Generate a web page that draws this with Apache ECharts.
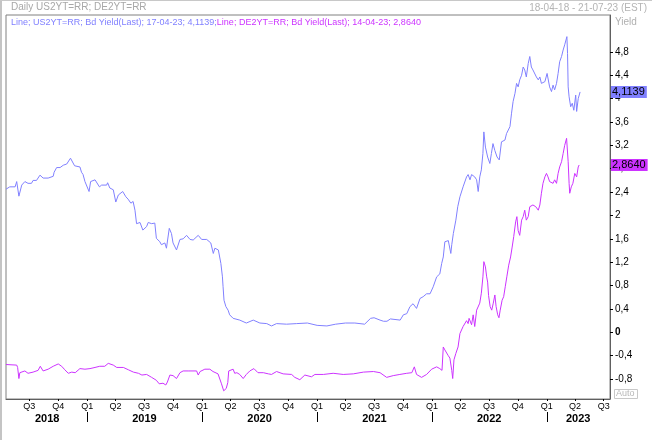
<!DOCTYPE html>
<html><head><meta charset="utf-8">
<script src="https://cdn.jsdelivr.net/npm/echarts@6/dist/echarts.min.js"></script>
<style>html,body{margin:0;padding:0;background:#fff}#c{width:652px;height:440px}</style>
</head><body><div id="c"></div>
<script>
// ---- US 2Y yield (Bd Yield, Last) ----
const usDates = [
'2018-04-18','2018-04-30','2018-05-17','2018-05-22','2018-05-25','2018-05-29','2018-06-07','2018-06-17','2018-06-27',
'2018-07-08','2018-07-13','2018-07-24','2018-08-04','2018-08-14','2018-08-30','2018-09-05','2018-09-15','2018-09-18','2018-09-26',
'2018-10-07','2018-10-17','2018-10-28','2018-11-01','2018-11-09','2018-11-22','2018-11-27','2018-12-09','2018-12-14','2018-12-19','2018-12-25','2018-12-30',
'2019-01-07','2019-01-12','2019-01-26','2019-01-31','2019-02-09','2019-02-16','2019-03-04','2019-03-07','2019-03-14','2019-03-25',
'2019-04-02','2019-04-10','2019-04-24','2019-05-04','2019-05-11','2019-05-20','2019-05-27','2019-06-02','2019-06-07','2019-06-18','2019-06-27',
'2019-07-09','2019-07-14','2019-07-25','2019-08-04','2019-08-09','2019-08-20','2019-08-25','2019-09-05','2019-09-10','2019-09-19','2019-09-26',
'2019-10-01','2019-10-12','2019-10-23','2019-11-02','2019-11-13','2019-11-24','2019-12-04','2019-12-20','2019-12-31',
'2020-01-16','2020-01-29','2020-02-06','2020-02-11','2020-02-22','2020-02-27','2020-03-01','2020-03-06','2020-03-08','2020-03-11','2020-03-17','2020-03-24','2020-03-29',
'2020-04-09','2020-04-15','2020-04-30','2020-05-21','2020-06-12','2020-07-03','2020-07-25','2020-08-09','2020-08-25','2020-09-26','2020-10-28','2020-12-01',
'2021-01-01','2021-02-01','2021-03-01','2021-04-01','2021-05-01','2021-06-01','2021-06-20','2021-07-01','2021-07-20','2021-07-31','2021-08-11','2021-08-22','2021-09-22',
'2021-10-02','2021-10-13','2021-10-23','2021-11-02','2021-11-13','2021-11-24','2021-12-04','2021-12-15','2021-12-26',
'2022-01-05','2022-01-16','2022-01-26','2022-02-01','2022-02-06','2022-02-11','2022-02-22','2022-03-02','2022-03-05','2022-03-10','2022-03-18','2022-03-24','2022-03-31',
'2022-04-10','2022-04-21','2022-04-26','2022-05-02','2022-05-07','2022-05-17','2022-05-23','2022-05-28','2022-06-02','2022-06-07','2022-06-12','2022-06-15','2022-06-20','2022-06-27',
'2022-07-04','2022-07-09','2022-07-14','2022-07-20','2022-07-27','2022-08-03','2022-08-10','2022-08-21','2022-08-26',
'2022-09-06','2022-09-11','2022-09-16','2022-09-22','2022-09-27','2022-10-02','2022-10-07','2022-10-13','2022-10-18','2022-10-23','2022-10-28',
'2022-11-03','2022-11-08','2022-11-13','2022-11-18','2022-11-24','2022-11-29','2022-12-05','2022-12-10','2022-12-15','2022-12-26',
'2023-01-02','2023-01-10','2023-01-16','2023-01-21','2023-01-26','2023-02-01','2023-02-06','2023-02-11','2023-02-17','2023-02-22','2023-02-27',
'2023-03-06','2023-03-08','2023-03-10','2023-03-13','2023-03-18','2023-03-23','2023-03-28','2023-04-03','2023-04-06','2023-04-11','2023-04-17'
];
const usValues = [
2.45,2.49,2.49,2.58,2.55,2.33,2.52,2.58,2.55,
2.55,2.60,2.60,2.69,2.64,2.64,2.67,2.67,2.74,2.82,
2.82,2.86,2.88,2.86,2.98,2.85,2.83,2.83,2.74,2.70,2.58,2.58,
2.41,2.58,2.61,2.61,2.49,2.52,2.52,2.56,2.47,2.44,
2.23,2.35,2.41,2.32,2.28,2.21,2.24,2.09,1.86,1.88,1.75,
1.81,1.88,1.86,1.87,1.61,1.55,1.50,1.53,1.44,1.78,1.69,
1.53,1.41,1.59,1.60,1.66,1.59,1.58,1.66,1.59,
1.59,1.53,1.35,1.44,1.41,1.41,1.18,0.95,0.78,0.55,0.44,0.38,0.30,
0.24,0.26,0.21,0.16,0.21,0.16,0.15,0.11,0.15,0.14,0.15,0.16,
0.12,0.11,0.14,0.16,0.16,0.14,0.24,0.25,0.21,0.19,0.19,0.23,0.21,
0.30,0.32,0.44,0.49,0.41,0.58,0.61,0.66,0.66,
0.78,0.95,1.00,1.18,1.29,1.55,1.57,1.35,1.50,1.69,1.92,2.15,2.32,
2.49,2.66,2.70,2.61,2.70,2.66,2.61,2.41,2.66,2.78,3.06,3.43,3.17,3.00,
2.89,3.06,3.23,3.11,3.00,2.95,3.26,3.29,3.40,
3.52,3.75,3.95,4.09,4.26,4.20,4.32,4.40,4.54,4.49,4.37,
4.60,4.72,4.54,4.49,4.46,4.37,4.32,4.37,4.26,4.29,
4.43,4.20,4.12,4.23,4.15,4.26,4.43,4.63,4.72,4.83,4.92,
5.06,4.77,4.20,4.03,3.86,3.92,3.80,4.06,3.78,4.00,4.1139
];

// ---- German 2Y yield (Bd Yield, Last) ----
const deDates = [
'2018-04-18','2018-05-22','2018-05-25','2018-05-29','2018-06-01','2018-06-17','2018-06-27','2018-07-13','2018-07-29','2018-08-05','2018-08-14','2018-08-30','2018-09-15',
'2018-10-01','2018-10-12','2018-10-22','2018-11-02','2018-11-13','2018-11-24','2018-12-09','2018-12-25',
'2019-01-10','2019-01-26','2019-02-10','2019-02-26','2019-03-09','2019-03-25','2019-04-05','2019-04-26','2019-05-12','2019-05-28','2019-06-13','2019-06-24',
'2019-07-09','2019-07-25','2019-08-09','2019-08-18','2019-08-30','2019-09-08','2019-09-13','2019-09-21','2019-10-01','2019-10-12','2019-10-23','2019-11-02','2019-11-18','2019-12-15','2019-12-20','2019-12-26',
'2020-01-10','2020-01-26','2020-02-05','2020-02-21','2020-03-03','2020-03-10','2020-03-18','2020-03-23','2020-03-26','2020-04-09','2020-04-14','2020-04-21','2020-04-30','2020-05-11','2020-05-21',
'2020-06-01','2020-06-14','2020-06-27','2020-07-14','2020-07-30','2020-08-09','2020-08-25','2020-09-15','2020-10-12','2020-10-22','2020-11-07','2020-11-23','2020-12-14','2020-12-25',
'2021-01-21','2021-02-21','2021-03-25','2021-04-26','2021-05-28','2021-06-29','2021-07-20','2021-08-10','2021-08-31','2021-09-21','2021-10-13','2021-10-29','2021-11-06','2021-11-13','2021-11-29','2021-12-15','2021-12-31',
'2022-01-16','2022-01-26','2022-02-02','2022-02-06','2022-02-11','2022-02-22','2022-02-27','2022-03-05','2022-03-08','2022-03-12','2022-03-18','2022-03-25','2022-03-31',
'2022-04-05','2022-04-10','2022-04-21','2022-04-26','2022-04-29','2022-05-02','2022-05-07','2022-05-12','2022-05-17','2022-05-23','2022-05-28','2022-06-02','2022-06-07','2022-06-12','2022-06-15','2022-06-20','2022-06-24','2022-06-27','2022-06-30',
'2022-07-05','2022-07-10','2022-07-15','2022-07-20','2022-07-24','2022-07-29','2022-08-02','2022-08-06','2022-08-12','2022-08-17','2022-08-22','2022-08-27','2022-09-02','2022-09-08','2022-09-13','2022-09-18','2022-09-24','2022-09-28',
'2022-10-02','2022-10-07','2022-10-13','2022-10-18','2022-10-23','2022-10-28','2022-11-03','2022-11-08','2022-11-13','2022-11-18','2022-11-27','2022-12-05','2022-12-10','2022-12-15','2022-12-20','2022-12-26','2022-12-31',
'2023-01-05','2023-01-10','2023-01-16','2023-01-21','2023-01-26','2023-02-01','2023-02-06','2023-02-11','2023-02-17','2023-02-22','2023-02-27','2023-03-05','2023-03-10','2023-03-13','2023-03-15','2023-03-20','2023-03-25','2023-03-31','2023-04-06','2023-04-11','2023-04-14'
];
const deValues = [
-0.55,-0.56,-0.60,-0.79,-0.69,-0.66,-0.70,-0.68,-0.65,-0.58,-0.66,-0.63,-0.58,
-0.54,-0.58,-0.64,-0.70,-0.68,-0.69,-0.62,-0.63,
-0.62,-0.60,-0.58,-0.58,-0.53,-0.56,-0.60,-0.60,-0.64,-0.68,-0.70,-0.73,
-0.72,-0.77,-0.82,-0.88,-0.87,-0.90,-0.85,-0.73,-0.74,-0.79,-0.69,-0.66,-0.66,-0.66,-0.73,-0.67,
-0.63,-0.63,-0.67,-0.71,-0.88,-1.00,-0.96,-0.86,-0.66,-0.63,-0.70,-0.69,-0.72,-0.79,-0.72,
-0.66,-0.62,-0.69,-0.69,-0.71,-0.72,-0.67,-0.71,-0.72,-0.77,-0.81,-0.73,-0.76,-0.72,
-0.72,-0.70,-0.72,-0.71,-0.68,-0.67,-0.69,-0.77,-0.74,-0.72,-0.70,-0.69,-0.59,-0.72,-0.77,-0.72,-0.63,
-0.59,-0.62,-0.65,-0.25,-0.30,-0.40,-0.44,-0.65,-0.79,-0.47,-0.36,-0.25,-0.02,
0.01,0.10,0.20,0.15,0.24,0.27,0.13,0.30,0.10,0.38,0.35,0.50,0.67,0.95,1.21,1.12,0.95,0.86,0.63,
0.44,0.38,0.50,0.64,0.44,0.30,0.25,0.38,0.55,0.61,0.78,0.95,1.15,1.29,1.46,1.64,1.89,1.98,
1.74,1.66,1.92,1.98,2.09,1.92,1.98,2.15,2.12,2.18,2.15,2.09,2.18,2.38,2.55,2.66,2.72,
2.66,2.58,2.61,2.55,2.61,2.55,2.72,2.83,2.92,3.06,3.20,3.32,2.92,2.55,2.38,2.49,2.55,2.72,2.66,2.83,2.864
];

// ---- axis ticks / labels ----
const axisMin = '2018-04-18';
const axisMax = '2023-07-21';
const quarterTicks = ['2018-07-01','2018-10-01','2019-01-01','2019-04-01','2019-07-01','2019-10-01',
'2020-01-01','2020-04-01','2020-07-01','2020-10-01','2021-01-01','2021-04-01','2021-07-01','2021-10-01',
'2022-01-01','2022-04-01','2022-07-01','2022-10-01','2023-01-01','2023-04-01','2023-07-01'];
const yearTicks = ['2019-01-01','2020-01-01','2021-01-01','2022-01-01','2023-01-01'];
const yearLabelPos = ['2018-08-27','2019-07-02','2020-07-02','2021-07-02','2022-07-02','2023-04-11'];
const yTicks = [-0.8,-0.4,0,0.4,0.8,1.2,1.6,2,2.4,2.8,3.2,3.6,4,4.4,4.8];

const US_COLOR = '#8080FF';
const DE_COLOR = '#CC33FF';
const FONT = '"Liberation Sans", Arial, sans-serif';

// date string -> UTC timestamp (used as the x value on a numeric axis)
const ts = s => { const p = s.split('-').map(Number); return Date.UTC(p[0], p[1] - 1, p[2]); };
const comma = v => String(v).replace('.', ',');
const fmt4 = v => Number(v).toFixed(4).replace('.', ',');
const fmtDate = s => { const p = s.split('-'); return p[2] + '-' + p[1] + '-' + p[0].slice(2); };

const usLast = usValues[usValues.length - 1];
const deLast = deValues[deValues.length - 1];
const legendUS = 'Line; US2YT=RR; Bd Yield(Last); ' + fmtDate(usDates[usDates.length - 1]) + '; ' + fmt4(usLast) + ';';
const legendDE = 'Line; DE2YT=RR; Bd Yield(Last); ' + fmtDate(deDates[deDates.length - 1]) + '; ' + fmt4(deLast);

const xBase = {
  type: 'value', min: ts(axisMin), max: ts(axisMax), position: 'bottom', scale: true,
  splitLine: { show: false }, splitArea: { show: false }
};

const badge = (color) => ({
  silent: true, symbol: 'none', animation: false, precision: 4,
  lineStyle: { width: 0, color: 'rgba(0,0,0,0)', type: 'solid' },
  emphasis: { disabled: true },
  label: { show: true, position: 'end', distance: 1, formatter: p => fmt4(p.value), backgroundColor: color,
    color: '#000', fontSize: 11, padding: [1, 2, 0, 1], fontFamily: FONT, opacity: 1 }
});

const chart = echarts.init(document.getElementById('c'));
chart.setOption({
  animation: false,
  textStyle: { fontFamily: FONT },
  title: [
    { text: 'Daily US2YT=RR; DE2YT=RR', left: 11, top: 2, padding: 0,
      textStyle: { fontSize: 10, fontWeight: 'normal', color: '#a8a8a8', fontFamily: FONT } },
    { text: '18-04-18 - 21-07-23 (EST)', right: 5, top: 3, padding: 0,
      textStyle: { fontSize: 10, fontWeight: 'normal', color: '#b4b4b4', fontFamily: FONT } },
    { text: '{a|' + legendUS + '}{b|' + legendDE + '}', left: 11, top: 18, padding: 0,
      textStyle: { fontSize: 9, fontWeight: 'normal', fontFamily: FONT,
        rich: { a: { color: US_COLOR, fontSize: 9, fontFamily: FONT }, b: { color: DE_COLOR, fontSize: 9, fontFamily: FONT } } } }
  ],
  grid: { left: 6, right: 42, top: 15, bottom: 41, show: true, borderColor: '#808080', borderWidth: 1, outerBoundsMode: 'none' },
  xAxis: [
    Object.assign({}, xBase, {
      axisLine: { show: true, onZero: false, lineStyle: { color: '#606060', width: 1 } },
      axisTick: { show: true, customValues: quarterTicks.map(ts), length: 2, lineStyle: { color: '#000' } },
      axisLabel: { customValues: quarterTicks.map(ts), margin: 3, fontSize: 9, color: '#000', hideOverlap: false,
        formatter: v => 'Q' + (Math.floor(new Date(v).getUTCMonth() / 3) + 1) } }),
    Object.assign({}, xBase, { offset: 13,
      axisLine: { show: false, onZero: false },
      axisTick: { show: true, customValues: yearTicks.map(ts), length: 10, lineStyle: { color: '#000' } },
      axisLabel: { customValues: yearLabelPos.map(ts), margin: 1, fontSize: 11, fontWeight: 'bold', color: '#000', hideOverlap: false,
        formatter: v => String(new Date(v).getUTCFullYear()) } })
  ],
  yAxis: {
    type: 'value', position: 'right', min: -1.14, max: 5.43,
    axisLine: { show: true, onZero: false, lineStyle: { color: '#606060', width: 1 } },
    axisTick: { show: true, customValues: yTicks, length: 3, lineStyle: { color: '#000' } },
    axisLabel: { customValues: yTicks, margin: 5, fontSize: 10, color: '#000',
      formatter: v => v === 0 ? '{b|0}' : comma(v),
      rich: { b: { fontWeight: 'bold', fontSize: 10, color: '#000' } } },
    splitLine: { show: false }
  },
  graphic: [
    { type: 'rect', shape: { x: 0, y: 0, width: 2, height: 440 }, style: { fill: '#c4c4c4' }, silent: true },
    { type: 'rect', shape: { x: 0, y: 0, width: 652, height: 1 }, style: { fill: '#c8c8c8' }, silent: true },
    { type: 'text', left: 615, top: 17, style: { text: 'Yield', fill: '#b0b0b0', fontSize: 10, fontFamily: FONT }, silent: true },
    { type: 'rect', shape: { x: 614.5, y: 389.5, width: 23, height: 9 }, style: { fill: '#fff', stroke: '#c8c8c8', lineWidth: 1 }, silent: true },
    { type: 'text', left: 616, top: 389.5, style: { text: 'Auto', fill: '#b8b8b8', fontSize: 9, fontFamily: FONT }, silent: true }
  ],
  series: [
    { name: 'US2YT=RR', type: 'line', xAxisIndex: 0, yAxisIndex: 0, symbol: 'none', showSymbol: false,
      data: usDates.map((d, i) => [ts(d), usValues[i]]),
      lineStyle: { width: 1, color: US_COLOR }, itemStyle: { color: US_COLOR },
      markLine: Object.assign(badge(US_COLOR), { data: [{ yAxis: usLast }] }) },
    { name: 'DE2YT=RR', type: 'line', xAxisIndex: 0, yAxisIndex: 0, symbol: 'none', showSymbol: false,
      data: deDates.map((d, i) => [ts(d), deValues[i]]),
      lineStyle: { width: 1, color: DE_COLOR }, itemStyle: { color: DE_COLOR },
      markLine: Object.assign(badge(DE_COLOR), { data: [{ yAxis: deLast }] }) }
  ]
});
</script>
</body></html>
